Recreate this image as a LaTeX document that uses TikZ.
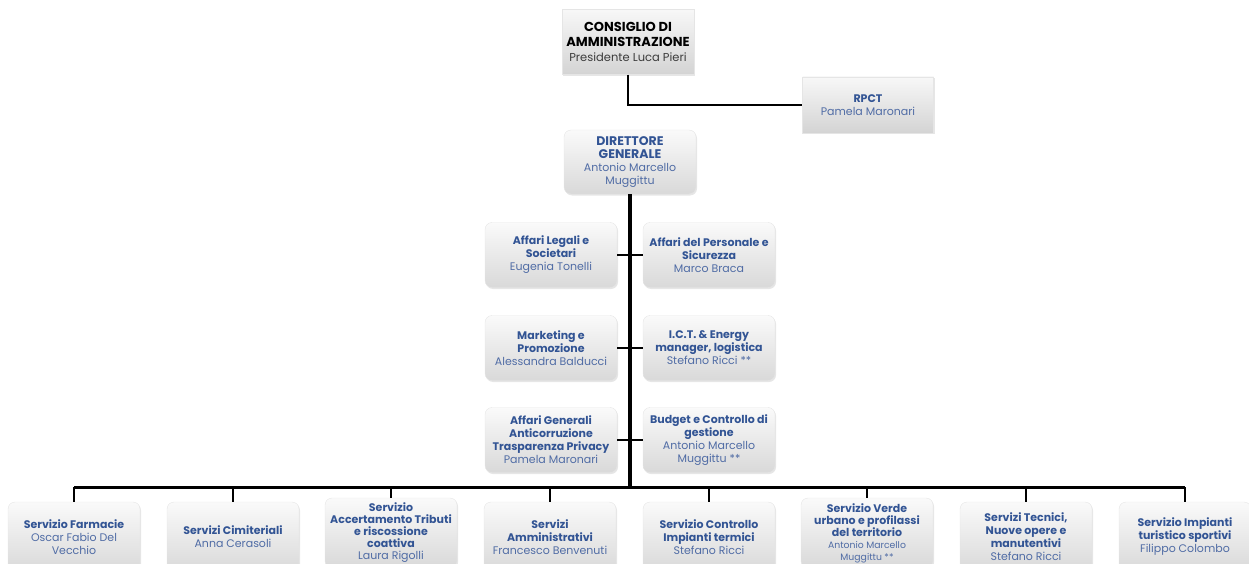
\documentclass[tikz,border=0pt]{standalone}
\usepackage{fontspec}
\setmainfont{Poppins}
\usetikzlibrary{positioning,shadows}

\definecolor{titleblue}{RGB}{50,84,148}
\definecolor{nameblue}{RGB}{80,108,165}
\definecolor{namegray}{RGB}{60,60,60}
\newcommand{\ttl}[1]{{\bfseries\color{titleblue}#1}}
\newcommand{\ttk}[1]{{\fontsize{13}{15}\selectfont\bfseries\color{black}#1}}
\newcommand{\ttd}[1]{{\fontsize{12.5}{14}\selectfont\bfseries\color{titleblue}#1}}
\newcommand{\sml}[1]{{\fontsize{9.3}{10.5}\selectfont #1}}

\begin{document}
\begin{tikzpicture}[x=1pt,y=-1pt,
	box/.style={draw=gray!20, rounded corners=7pt, top color=gray!4, bottom color=gray!30,
		drop shadow={opacity=0.2,shadow xshift=1pt,shadow yshift=-1.5pt},
		minimum width=132pt, minimum height=65pt, inner sep=0pt, align=center,
		text=nameblue, font=\fontsize{11}{13}\selectfont},
	plainbox/.style={box, sharp corners, top color=gray!6, bottom color=gray!34},
	tallbox/.style={box, minimum height=70pt, font=\fontsize{11}{12}\selectfont},
	link/.style={draw=black, line width=1.6pt},
	trunk/.style={draw=black, line width=3.5pt}]

		\useasboundingbox (0,0) rectangle (1249,564);
		\clip (0,0) rectangle (1249,564);

		\draw (628,42) node [plainbox, text=namegray, font=\fontsize{11.5}{15}\selectfont] (cda) {\ttk{CONSIGLIO DI}\\\ttk{AMMINISTRAZIONE}\\Presidente Luca Pieri};
		\draw (868,105) node [plainbox, minimum width=131pt, minimum height=56pt] (rpct) {\ttl{RPCT}\\Pamela Maronari};
		\draw (630,162) node [box, minimum height=64pt] (dg) {\ttd{DIRETTORE}\\\ttd{GENERALE}\\Antonio Marcello\\Muggittu};

		\draw (551,255) node [box] (legali) {\ttl{Affari Legali e}\\\ttl{Societari}\\Eugenia Tonelli};
		\draw (709,255) node [box] (personale) {\ttl{Affari del Personale e}\\\ttl{Sicurezza}\\Marco Braca};
		\draw (551,348) node [box] (marketing) {\ttl{Marketing e}\\\ttl{Promozione}\\Alessandra Balducci};
		\draw (709,348) node [box] (ict) {\ttl{I.C.T. \& Energy}\\\ttl{manager, logistica}\\Stefano Ricci **};
		\draw (551,440) node [box] (generali) {\ttl{Affari Generali}\\\ttl{Anticorruzione}\\\ttl{Trasparenza Privacy}\\Pamela Maronari};
		\draw (709,440) node [box] (budget) {\ttl{Budget e Controllo di}\\\ttl{gestione}\\Antonio Marcello\\Muggittu **};

		\draw (74,537) node [box, minimum height=70pt] (farmacie) {\ttl{Servizio Farmacie}\\Oscar Fabio Del\\Vecchio};
		\draw (233,537) node [box, minimum height=70pt] (cimiteriali) {\ttl{Servizi Cimiteriali}\\Anna Cerasoli};
		\draw (391,533) node [tallbox] (tributi) {\ttl{Servizio}\\\ttl{Accertamento Tributi}\\\ttl{e riscossione}\\\ttl{coattiva}\\Laura Rigolli};
		\draw (550,537) node [box, minimum height=70pt] (amministrativi) {\ttl{Servizi}\\\ttl{Amministrativi}\\Francesco Benvenuti};
		\draw (709,537) node [box, minimum height=70pt] (termici) {\ttl{Servizio Controllo}\\\ttl{Impianti termici}\\Stefano Ricci};
		\draw (867,533) node [tallbox] (verde) {\ttl{Servizio Verde}\\\ttl{urbano e profilassi}\\\ttl{del territorio}\\\sml{Antonio Marcello}\\\sml{Muggittu **}};
		\draw (1026,537) node [box, minimum height=70pt] (tecnici) {\ttl{Servizi Tecnici,}\\\ttl{Nuove opere e}\\\ttl{manutentivi}\\Stefano Ricci};
		\draw (1185,537) node [box, minimum height=70pt] (impianti) {\ttl{Servizio Impianti}\\\ttl{turistico sportivi}\\Filippo Colombo};

		\coordinate (bus) at (630,487);

		\draw[link] (cda.south) |- (rpct.west);
		\draw[trunk] (dg.south) -- (bus);
		\draw[link] (legali) -- (personale);
		\draw[link] (marketing) -- (ict);
		\draw[link] (generali) -- (budget);
		\draw[trunk, line width=3pt] (bus -| farmacie) -- (bus -| impianti);
		\foreach \n in {farmacie,cimiteriali,tributi,amministrativi,termici,verde,tecnici,impianti}
			\draw[link] (bus -| \n) -- (\n.north);
	\end{tikzpicture}
\end{document}
